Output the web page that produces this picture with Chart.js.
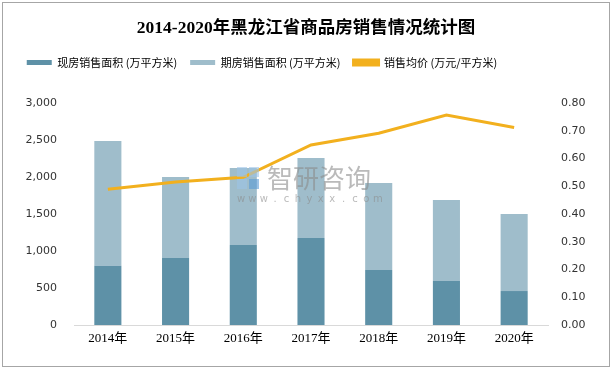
<!DOCTYPE html>
<html>
<head>
<meta charset="utf-8">
<script src="https://cdn.jsdelivr.net/npm/chart.js@4.4.1/dist/chart.umd.min.js"></script>
<style>
  html, body { margin: 0; padding: 0; background: #fff; }
  #wrap { width: 612px; height: 370px; position: relative; }
</style>
</head>
<body>
<div id="wrap"><canvas id="salesChart" width="612" height="370"></canvas></div>
<script>
// data
const years = ['2014年', '2015年', '2016年', '2017年', '2018年', '2019年', '2020年'];
const currentArea = [801, 905, 1081, 1176, 743, 595, 459];     // 现房销售面积
const futureArea = [1685, 1095, 1041, 1081, 1176, 1094, 1041]; // 期房销售面积
const avgPrice = [0.489, 0.515, 0.532, 0.649, 0.691, 0.757, 0.712]; // 销售均价
const leftTicks = [0, 500, 1000, 1500, 2000, 2500, 3000];
const rightTicks = [0, 0.1, 0.2, 0.3, 0.4, 0.5, 0.6, 0.7, 0.8];

const tickFont = { family: 'DejaVu Sans', size: 11 };
const cjkSans = '"Noto Sans CJK SC", "DejaVu Sans", sans-serif';

// grey frame around the whole picture + watermark
const frame = {
    id: 'frame',
    beforeDraw(chart) {
        const c = chart.ctx;
        c.save();
        c.fillStyle = '#fff';
        c.fillRect(0, 0, chart.width, chart.height);
        c.strokeStyle = '#a6a6a6';
        c.lineWidth = 1;
        c.strokeRect(2.5, 2.5, chart.width - 5, chart.height - 6);
        c.restore();
    },
    afterDraw(chart) {
        const c = chart.ctx;
        c.save();
        c.globalAlpha = 0.6;
        c.fillStyle = '#9dc3e6';
        c.fillRect(237, 167, 10, 10);
        c.fillRect(249, 167, 10, 10);
        c.fillRect(237, 179, 10, 10);
        c.fillStyle = '#5b9bd5';
        c.fillRect(249, 179, 10, 10);
        c.fillStyle = '#8c8c8c';
        c.font = '26px ' + cjkSans;
        c.textBaseline = 'middle';
        c.fillText('智研咨询', 267, 178);
        c.font = '10px "DejaVu Sans"';
        c.textAlign = 'center';
        'www.chyxx.com'.split('').forEach((ch, i) => c.fillText(ch, 241 + i * 11.4, 199));
        c.restore();
    }
};

// extra gap under the legend, legend pushed a bit to the left
const legendGap = {
    id: 'legendGap',
    beforeInit(chart) {
        const fit = chart.legend.fit;
        chart.legend.fit = function() {
            fit.bind(chart.legend)();
            this.height += 25;
        };
    },
    afterLayout(chart) {
        chart.legend.left -= 44;
        chart.legend.right -= 44;
    }
};

const ctx = document.getElementById('salesChart');
new Chart(ctx, {
    type: 'bar',
    data: {
        labels: years,
        datasets: [
            {
                label: '现房销售面积 (万平方米)',
                data: currentArea,
                backgroundColor: '#5e91a7',
                stack: 'area',
                yAxisID: 'y',
                order: 1,
                barPercentage: 0.8,
                categoryPercentage: 0.5
            },
            {
                label: '期房销售面积 (万平方米)',
                data: futureArea,
                backgroundColor: '#9fbdcb',
                stack: 'area',
                yAxisID: 'y',
                order: 1,
                barPercentage: 0.8,
                categoryPercentage: 0.5
            },
            {
                type: 'line',
                label: '销售均价 (万元/平方米)',
                data: avgPrice,
                borderColor: '#f2b01e',
                backgroundColor: '#f2b01e',
                borderWidth: 3,
                pointRadius: 0,
                tension: 0,
                yAxisID: 'y1',
                order: 0
            }
        ]
    },
    options: {
        responsive: false,
        animation: false,
        layout: { padding: { top: 8, left: 0, right: 0, bottom: 0 } },
        scales: {
            x: {
                stacked: true,
                grid: { display: false, drawTicks: false },
                border: { color: '#d9d9d9' },
                ticks: {
                    color: '#000',
                    padding: 6,
                    font: { family: '"Liberation Serif", "Noto Sans CJK SC", serif', size: 13 }
                },
                afterFit(scale) { scale.height = 45; }
            },
            y: {
                stacked: true,
                min: 0,
                max: 3000,
                grid: { display: false, drawTicks: false },
                border: { display: false },
                afterBuildTicks(scale) { scale.ticks = leftTicks.map(v => ({ value: v })); },
                ticks: {
                    color: '#333',
                    padding: 17,
                    font: tickFont,
                    callback: v => v.toLocaleString('en-US')
                },
                afterFit(scale) { scale.width = 74; }
            },
            y1: {
                position: 'right',
                min: 0,
                max: 0.8,
                grid: { display: false, drawTicks: false },
                border: { display: false },
                afterBuildTicks(scale) { scale.ticks = rightTicks.map(v => ({ value: v })); },
                ticks: {
                    color: '#333',
                    padding: 13,
                    font: tickFont,
                    callback: v => v.toFixed(2)
                },
                afterFit(scale) { scale.width = 64; }
            }
        },
        plugins: {
            title: {
                display: true,
                text: '2014-2020年黑龙江省商品房销售情况统计图',
                color: '#000',
                font: { family: '"Liberation Serif", "Noto Sans CJK SC", serif', size: 17.5, weight: 'bold' },
                padding: { top: 10, bottom: 5 }
            },
            legend: {
                display: true,
                labels: {
                    boxWidth: 25,
                    boxHeight: 5,
                    color: '#000',
                    padding: 13,
                    font: { family: cjkSans, size: 11 },
                    sort: (a, b) => a.datasetIndex - b.datasetIndex
                }
            },
            tooltip: { enabled: false }
        }
    },
    plugins: [frame, legendGap]
});
</script>
</body>
</html>
